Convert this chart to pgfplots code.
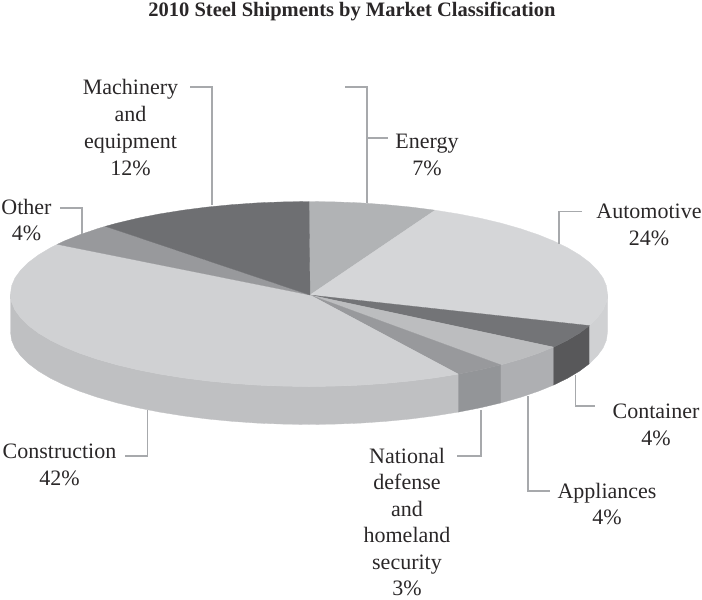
\documentclass[border=0pt]{standalone}
\usepackage{fontspec}
\setmainfont{Liberation Serif}
\usepackage{pgfplots}
\pgfplotsset{compat=1.18}
\definecolor{ink}{HTML}{2A2728}
\definecolor{lead}{HTML}{A7A9AC}
\definecolor{cEnergy}{HTML}{B1B3B5}
\definecolor{cAuto}{HTML}{D5D6D8}
\definecolor{cAutoS}{HTML}{D0D1D3}
\definecolor{cCont}{HTML}{737477}
\definecolor{cContS}{HTML}{58585A}
\definecolor{cAppl}{HTML}{BCBDBF}
\definecolor{cApplS}{HTML}{AEAFB2}
\definecolor{cNat}{HTML}{98999C}
\definecolor{cNatS}{HTML}{939598}
\definecolor{cCon}{HTML}{D0D1D3}
\definecolor{cConS}{HTML}{BFC0C2}
\definecolor{cOther}{HTML}{98999C}
\definecolor{cMach}{HTML}{6E6F72}
\begin{document}
\begin{tikzpicture}[every node/.style={text=ink,font=\fontsize{22}{26.8}\selectfont,align=center,inner sep=0pt}]
\path[use as bounding box] (0,0) rectangle (702pt,600pt);
\begin{axis}[at={(0,0)},anchor=south west,scale only axis,width=702pt,height=600pt,
  xmin=0,xmax=702,ymin=0,ymax=600,y dir=reverse,hide axis,clip=false,
  pie/.style={fill=#1,draw=#1,line width=0.3pt,line join=round,mark=none,forget plot},
  leader/.style={draw=lead,line width=1.2pt,mark=none,forget plot,line join=miter}]
% --- sides
\addplot[pie=cConS] coordinates {(10.5,294)(11.6,302.1)(15,310.1)(20.7,317.9)(28.5,325.6)(38.5,333.1)(50.5,340.25)(64.5,347.1)(80.3,353.5)(97.9,359.4)(117.1,364.9)(137.8,369.8)(159.75,374.1)(182.9,377.8)(206.9,380.9)(231.7,383.3)(257.2,385.1)(283,386.1)(309,386.5)(335,386.1)(360.8,385.1)(386.3,383.3)(411.1,380.9)(435.1,377.8)(458.25,374.1)(458.25,412.1)(435.1,415.8)(411.1,418.9)(386.3,421.3)(360.8,423.1)(335,424.1)(309,424.5)(283,424.1)(257.2,423.1)(231.7,421.3)(206.9,418.9)(182.9,415.8)(159.75,412.1)(137.8,407.8)(117.1,402.9)(97.9,397.4)(80.3,391.5)(64.5,385.1)(50.5,378.25)(38.5,371.1)(28.5,363.6)(20.7,355.9)(15,348.1)(11.6,340.1)(10.5,332)(10.5,294)};
\addplot[pie=cNatS] coordinates {(458.25,374.1)(480.2,369.8)(500.9,364.9)(500.9,402.9)(480.2,407.8)(458.25,412.1)(458.25,374.1)};
\addplot[pie=cApplS] coordinates {(500.9,364.9)(520.1,359.4)(537.7,353.5)(553.5,347.1)(553.5,385.1)(537.7,391.5)(520.1,397.4)(500.9,402.9)(500.9,364.9)};
\addplot[pie=cContS] coordinates {(553.5,347.1)(567.5,340.25)(579.5,333.1)(589.5,325.6)(589.5,363.6)(579.5,371.1)(567.5,378.25)(553.5,385.1)(553.5,347.1)};
\addplot[pie=cAutoS] coordinates {(589.5,325.6)(597.3,317.9)(603,310.1)(606.4,302.1)(607.5,294)(607.5,332)(606.4,340.1)(603,348.1)(597.3,355.9)(589.5,363.6)(589.5,325.6)};
% --- top surface
\addplot[pie=cEnergy] coordinates {(310,295)(435.1,210.2)(411.1,207.1)(386.3,204.7)(360.8,202.9)(335,201.9)(309,201.5)(310,295)};
\addplot[pie=cAuto] coordinates {(310,295)(589.5,325.6)(597.3,317.9)(603,310.1)(606.4,302.1)(607.5,294)(606.4,285.9)(603,277.9)(597.3,270.1)(589.5,262.4)(579.5,254.9)(567.5,247.75)(553.5,240.9)(537.7,234.5)(520.1,228.6)(500.9,223.1)(480.2,218.2)(458.25,213.9)(435.1,210.2)(310,295)};
\addplot[pie=cCont] coordinates {(310,295)(553.5,347.1)(567.5,340.25)(579.5,333.1)(589.5,325.6)(310,295)};
\addplot[pie=cAppl] coordinates {(310,295)(500.9,364.9)(520.1,359.4)(537.7,353.5)(553.5,347.1)(310,295)};
\addplot[pie=cNat] coordinates {(310,295)(458.25,374.1)(480.2,369.8)(500.9,364.9)(310,295)};
\addplot[pie=cCon] coordinates {(310,295)(57.3,244.3)(50.5,247.75)(38.5,254.9)(28.5,262.4)(20.7,270.1)(15,277.9)(11.6,285.9)(10.5,294)(11.6,302.1)(15,310.1)(20.7,317.9)(28.5,325.6)(38.5,333.1)(50.5,340.25)(64.5,347.1)(80.3,353.5)(97.9,359.4)(117.1,364.9)(137.8,369.8)(159.75,374.1)(182.9,377.8)(206.9,380.9)(231.7,383.3)(257.2,385.1)(283,386.1)(309,386.5)(335,386.1)(360.8,385.1)(386.3,383.3)(411.1,380.9)(435.1,377.8)(458.25,374.1)(310,295)};
\addplot[pie=cOther] coordinates {(310,295)(105.4,226.3)(97.9,228.6)(80.3,234.5)(64.5,240.9)(57.3,244.3)(310,295)};
\addplot[pie=cMach] coordinates {(310,295)(309,201.5)(283,201.9)(257.2,202.9)(231.7,204.7)(206.9,207.1)(182.9,210.2)(159.75,213.9)(137.8,218.2)(117.1,223.1)(105.4,226.3)(310,295)};
% --- leaders
\addplot[leader] coordinates {(190,87)(212,87)(212,205)};
\addplot[leader] coordinates {(345,87)(367,87)(367,203)};
\addplot[leader] coordinates {(367,138)(388,138)};
\addplot[leader] coordinates {(582,211.5)(559,211.5)(559,244)};
\addplot[leader] coordinates {(60,208)(82,208)(82,234)};
\addplot[leader] coordinates {(147.5,410)(147.5,456)(125,456)};
\addplot[leader] coordinates {(481,410)(481,456)(457,456)};
\addplot[leader] coordinates {(528,396)(528,491)(550,491)};
\addplot[leader] coordinates {(575.7,375)(575.7,406)(595,406)};
% --- text
\node[font=\fontsize{20.5}{24}\selectfont\bfseries] at (axis cs:352,11) {2010 Steel Shipments by Market Classification};
\node at (axis cs:130.5,127.5) {Machinery\\and\\equipment\\12\%};
\node at (axis cs:427,155) {Energy\\7\%};
\node at (axis cs:649,225) {Automotive\\24\%};
\node at (axis cs:26.5,220) {Other\\4\%};
\node at (axis cs:656,424.5) {Container\\4\%};
\node at (axis cs:607,504) {Appliances\\4\%};
\node[font=\fontsize{22}{26.4}\selectfont] at (axis cs:407,522) {National\\defense\\and\\homeland\\security\\3\%};
\node at (axis cs:59.5,465) {Construction\\42\%};
\end{axis}
\end{tikzpicture}
\end{document}
